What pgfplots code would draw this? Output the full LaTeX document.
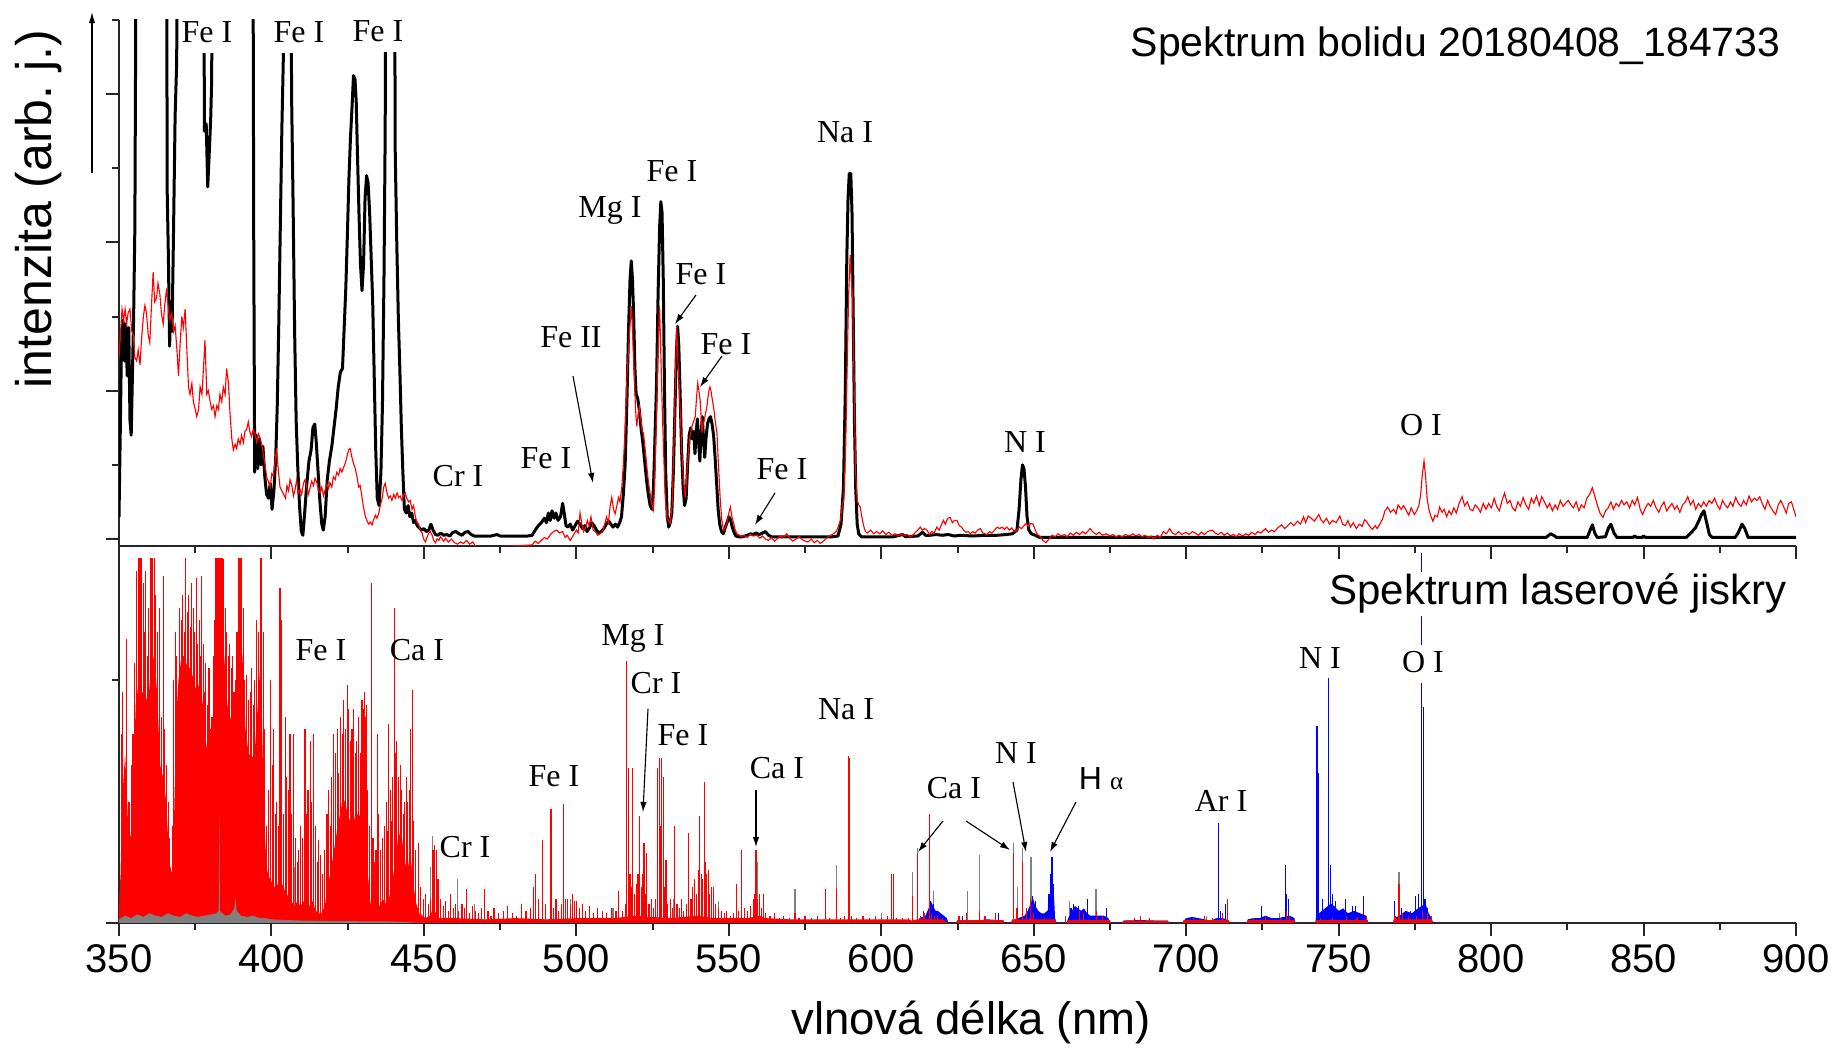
\documentclass[border=0pt]{standalone}
\usepackage{fontspec}
\setmainfont{Liberation Sans}
\newfontfamily\tms{Liberation Serif}
\usepackage{pgfplots}
\pgfplotsset{compat=1.18}
\usetikzlibrary{arrows.meta}
\pgfplotsset{
  spec/.style={scale only axis, width=670.8pt, xmin=350, xmax=900,
    axis x line*=bottom, axis y line*=left,
    axis line style={-, line width=0.8pt, black!85},
    tick align=outside, major tick length=5.2pt, minor tick length=2.8pt,
    tick style={line width=0.8pt, black!85},
    xtick={350,400,...,900}, minor xtick={375,425,...,875},
    /pgf/number format/assume math mode=true,
    ticklabel style={font=\fontsize{16}{16}\selectfont},
    anchor=south west},
}
\tikzset{lab/.style={font=\tms\fontsize{12.8}{12.8}\selectfont, anchor=base, inner sep=0pt},
  wlab/.style={lab, fill=white, inner xsep=1pt, inner ysep=4pt, text depth=0pt},
  ar/.style={-{Latex[length=4pt,width=2.6pt]}, line width=0.45pt}}
\begin{document}
\begin{tikzpicture}
\useasboundingbox (0,0) rectangle (733.2pt,419.2pt);
% ---------------- top panel: meteor spectrum ----------------
\begin{axis}[spec, at={(47.6pt,200.8pt)}, height=210.4pt, ymin=-0.0945, ymax=7.0,
  ytick={0,2,4,6}, minor ytick={1,3,5,7}, yticklabels={}, xticklabels={}]
\addplot[black, line width=1.2pt, line join=round, mark=none] coordinates {
(350.0,0.30)(350.4,1.40)(350.8,2.60)(351.3,2.95)(351.8,2.40)(352.2,2.90)(352.7,2.20)(353.2,2.85)
(353.6,1.60)(354.0,1.40)(354.4,2.20)(354.8,3.00)(355.2,4.20)(355.7,9)(365.6,9)(365.8,4.70)
(366.2,3.80)(366.6,2.60)(367.0,3.20)(367.4,2.80)(367.9,4.20)(368.4,5.70)(368.9,6.40)(369.4,9)
(377.8,9)(378.0,5.50)(378.6,5.60)(379.1,4.75)(379.7,5.30)(380.1,5.70)(380.4,6.20)(380.6,9)
(393.9,9)(394.2,3.90)(394.5,0.90)(395.0,1.40)(395.5,0.95)(396.0,1.35)(396.6,1.00)(397.2,1.25)
(397.8,0.85)(398.4,0.60)(399.0,0.55)(399.6,0.75)(400.2,0.40)(400.8,0.65)(401.4,1.10)(401.9,1.80)
(402.4,2.90)(402.9,4.20)(403.4,5.50)(403.9,6.50)(404.3,9)(406.3,9)(406.6,6.00)(407.1,4.50)
(407.6,2.80)(408.1,1.60)(408.6,1.00)(409.2,0.45)(409.8,0.10)(410.3,0.05)(410.8,0.30)(411.5,0.70)
(412.3,1.05)(413.0,1.20)(413.6,1.50)(414.2,1.55)(414.7,1.30)(415.3,0.90)(415.9,0.50)(416.5,0.20)
(417.0,0.12)(417.6,0.30)(418.3,0.80)(419.0,1.05)(419.8,1.25)(420.5,1.50)(421.2,1.75)(421.9,2.05)
(422.6,2.25)(423.3,2.30)(423.9,2.90)(424.4,3.40)(424.9,4.10)(425.4,4.85)(425.9,5.40)(426.4,5.80)
(426.9,6.25)(427.4,6.20)(427.8,5.90)(428.2,5.20)(428.7,4.40)(429.2,3.70)(429.7,3.35)(430.2,3.70)
(430.7,4.60)(431.2,4.90)(431.7,4.80)(432.2,4.40)(432.7,3.80)(433.2,3.20)(433.7,2.20)(434.2,1.20)
(434.7,0.55)(435.3,0.45)(435.9,0.90)(436.4,1.80)(436.9,3.50)(437.3,5.50)(437.6,9)(440.3,9)
(440.6,5.20)(441.1,4.00)(441.6,3.00)(442.1,2.30)(442.6,1.50)(443.1,0.90)(443.6,0.40)(444.2,0.35)
(444.8,0.45)(445.4,0.30)(446.0,0.35)(446.6,0.22)(447.2,0.25)(447.8,0.18)(448.5,0.15)(449.2,0.12)
(450.0,0.14)(450.8,0.10)(451.6,0.12)(452.3,0.20)(453.0,0.12)(453.8,0.06)(454.6,0.05)(455.5,0.08)
(456.5,0.05)(457.5,0.06)(458.5,0.04)(459.5,0.09)(460.5,0.10)(461.5,0.07)(462.5,0.05)(463.5,0.09)
(464.5,0.10)(465.5,0.06)(466.5,0.04)(468,0.04)(470,0.04)(472,0.04)(474,0.06)(475,0.04)
(478,0.04)(481,0.04)(484,0.04)(485.5,0.05)(486.5,0.12)(487.5,0.18)(488.5,0.22)(489.5,0.28)
(490.2,0.22)(490.8,0.35)(491.4,0.25)(492.0,0.38)(492.7,0.28)(493.3,0.35)(494.0,0.25)(494.8,0.30)
(495.5,0.48)(496.0,0.35)(496.6,0.18)(497.2,0.16)(498.0,0.20)(498.8,0.12)(499.6,0.18)(500.4,0.24)
(501.2,0.20)(502.0,0.14)(502.8,0.18)(503.5,0.10)(504.3,0.15)(505.0,0.22)(505.8,0.18)(506.6,0.12)
(507.4,0.08)(508.2,0.10)(509.0,0.14)(509.8,0.20)(510.6,0.24)(511.3,0.20)(512.0,0.16)(512.8,0.20)
(513.5,0.16)(514.2,0.22)(514.8,0.30)(515.4,0.60)(516.0,1.00)(516.6,1.90)(517.1,2.80)(517.6,3.50)
(518.0,3.75)(518.4,3.50)(518.8,3.00)(519.2,2.30)(519.6,1.95)(520.1,1.90)(520.6,1.75)(521.2,1.50)
(521.8,1.30)(522.4,1.05)(523.0,0.80)(523.6,0.60)(524.2,0.45)(524.8,0.40)(525.3,0.70)(525.8,1.40)
(526.3,2.10)(526.8,3.30)(527.3,4.20)(527.7,4.55)(528.1,4.40)(528.5,3.50)(528.9,2.00)(529.3,0.90)
(529.8,0.30)(530.3,0.16)(530.8,0.22)(531.3,0.35)(531.8,0.90)(532.3,1.70)(532.8,2.50)(533.2,2.87)
(533.6,2.60)(534.0,2.00)(534.5,1.20)(535.0,0.70)(535.5,0.45)(536.0,0.55)(536.5,1.00)(537.0,1.40)
(537.5,1.50)(538.0,1.35)(538.5,1.45)(538.9,1.15)(539.3,1.45)(539.7,1.62)(540.1,1.30)(540.5,1.05)
(540.9,1.40)(541.3,1.65)(541.7,1.35)(542.1,1.10)(542.5,1.35)(543.0,1.55)(543.5,1.62)(544.0,1.65)
(544.5,1.55)(545.0,1.40)(545.5,1.10)(546.0,0.75)(546.5,0.40)(547.0,0.20)(547.6,0.10)(548.2,0.07)
(548.8,0.15)(549.4,0.22)(550.0,0.30)(550.5,0.27)(551.0,0.18)(551.6,0.10)(552.3,0.04)(553.2,0.03)
(554.5,0.03)(556.0,0.05)(557.2,0.07)(558.0,0.06)(559.0,0.08)(560.0,0.06)(561.0,0.08)(562.0,0.10)
(563.0,0.05)(564.0,0.03)(566,0.03)(570,0.03)(575,0.03)(580,0.03)(584,0.03)(585.8,0.04)
(586.8,0.20)(587.6,0.70)(588.2,2.00)(588.7,3.80)(589.1,4.60)(589.5,4.93)(590.0,4.93)(590.4,4.40)
(590.8,3.00)(591.2,1.60)(591.6,0.70)(592.1,0.20)(592.6,0.07)(593.5,0.03)(596,0.03)(600,0.03)
(604,0.03)(607,0.06)(608,0.03)(612,0.04)(613.5,0.09)(614.5,0.05)(616,0.05)(618,0.06)
(620,0.05)(622,0.06)(624,0.04)(626,0.05)(630,0.04)(634,0.05)(638,0.05)(641,0.06)
(643,0.07)(644.5,0.12)(645.2,0.40)(645.8,0.80)(646.3,1.00)(646.8,0.95)(647.3,0.70)(647.8,0.30)
(648.4,0.12)(649.2,0.07)(650.5,0.05)(652,0.02)(700,0.02)(800,0.02)(818,0.02)(819.5,0.07)
(820.5,0.05)(821.5,0.02)(831.5,0.02)(832.5,0.12)(833.2,0.19)(834.0,0.08)(834.8,0.02)(837.5,0.03)
(838.5,0.15)(839.3,0.20)(840.3,0.08)(841.3,0.02)(846.5,0.02)(847,0.04)(847.8,0.02)(849.5,0.02)
(850,0.04)(850.6,0.02)(864,0.02)(865.5,0.08)(867,0.15)(868.2,0.25)(869.0,0.33)(869.8,0.38)
(870.7,0.22)(871.6,0.06)(872.5,0.02)(880,0.02)(881,0.08)(882.3,0.20)(883.2,0.14)(884.3,0.02)
(900,0.02)};
\addplot[red, line width=0.45pt, mark=none] coordinates {
(350.0,2.45)(350.6,2.85)(351.0,3.10)(351.5,2.95)(352.0,3.10)(352.5,2.90)(353.0,3.05)(353.6,3.10)
(354.2,2.80)(354.7,2.75)(355.2,2.45)(355.8,2.40)(356.3,2.55)(356.9,2.35)(357.4,2.70)(358.0,3.00)
(358.5,3.15)(359.0,3.05)(359.6,2.75)(360.1,2.65)(360.6,3.10)(361.2,3.60)(361.7,3.20)(362.3,3.25)
(362.8,3.45)(363.4,3.30)(363.9,3.05)(364.5,2.90)(365.0,3.15)(365.6,3.38)(366.2,3.10)(366.7,2.95)
(367.3,3.05)(367.9,2.80)(368.4,2.88)(369.0,2.55)(369.5,2.20)(370.0,2.60)(370.6,3.00)(371.1,2.85)
(371.7,3.10)(372.2,2.60)(372.8,2.05)(373.3,1.95)(373.9,2.10)(374.4,1.85)(375.0,1.75)(375.5,1.65)
(376.1,1.75)(376.6,2.05)(377.2,1.95)(377.7,2.30)(378.2,2.68)(378.8,1.95)(379.3,2.00)(379.9,1.85)
(380.4,1.75)(381.0,1.80)(381.5,1.65)(382.1,1.80)(382.6,1.75)(383.1,1.95)(383.7,1.85)(384.2,2.05)
(384.8,1.95)(385.3,2.30)(385.9,2.10)(386.4,1.70)(387.0,1.35)(387.5,1.20)(388.1,1.28)(388.6,1.22)
(389.1,1.35)(389.7,1.28)(390.2,1.40)(390.8,1.30)(391.3,1.45)(391.9,1.48)(392.4,1.58)(392.9,1.45)
(393.5,1.38)(394.0,1.48)(394.6,1.42)(395.2,1.30)(395.7,1.42)(396.3,1.36)(396.8,1.28)(397.4,1.12)
(397.9,1.00)(398.5,0.82)(399.0,0.78)(399.6,0.70)(400.1,0.88)(400.6,0.85)(401.2,1.05)(401.7,1.22)
(402.2,0.95)(402.8,0.70)(403.3,0.66)(404.0,0.60)(404.6,0.55)(405.1,0.72)(405.6,0.65)(406.1,0.80)
(406.7,0.72)(407.2,0.58)(407.7,0.66)(408.3,0.80)(408.8,0.62)(409.4,0.66)(409.9,0.60)(410.5,0.75)
(411.0,0.80)(411.6,0.70)(412.1,0.60)(412.6,0.68)(413.2,0.78)(413.8,0.72)(414.3,0.82)(414.9,0.76)
(415.4,0.66)(416.0,0.62)(416.5,0.70)(417.1,0.58)(417.6,0.66)(418.2,0.74)(418.7,0.68)(419.2,0.76)
(419.8,0.70)(420.3,0.84)(420.9,0.80)(421.4,0.90)(422.0,0.86)(422.5,0.95)(423.1,0.90)(423.6,0.96)
(424.2,1.02)(424.7,1.10)(425.3,1.20)(425.8,1.22)(426.4,1.10)(426.9,1.02)(427.5,0.95)(428.0,0.85)
(428.6,0.70)(429.1,0.72)(429.7,0.56)(430.2,0.42)(430.8,0.30)(431.3,0.25)(431.9,0.20)(432.4,0.23)
(433.0,0.19)(433.5,0.26)(434.1,0.32)(434.6,0.28)(435.2,0.35)(435.7,0.45)(436.3,0.55)(436.8,0.70)
(437.3,0.75)(437.9,0.62)(438.4,0.55)(439.0,0.58)(439.5,0.52)(440.1,0.60)(440.6,0.55)(441.2,0.62)
(441.7,0.56)(442.2,0.58)(442.8,0.52)(443.3,0.58)(443.9,0.62)(444.4,0.55)(445.0,0.50)(445.5,0.52)
(446.1,0.40)(446.6,0.45)(447.2,0.30)(447.7,0.22)(448.3,0.20)(448.8,0.12)(449.4,0.08)(449.9,0.00)
(450.5,-0.04)(451.0,0.02)(451.6,0.08)(452.1,0.10)(452.7,0.05)(453.2,-0.02)(453.8,-0.05)(454.3,0.00)
(454.9,-0.02)(455.4,0.03)(456.0,0.00)(456.5,-0.03)(457.1,0.01)(458,-0.04)(459,0.00)(460,-0.05)
(461,-0.07)(462,-0.04)(463,-0.06)(464,-0.02)(465,-0.07)(466,-0.04)(467,-0.10)(468,-0.12)
(485.5,-0.08)(486.5,-0.03)(487.5,-0.06)(488.5,-0.02)(489.5,0.02)(490.5,0.00)(491.5,0.06)(492.5,0.10)
(493.5,0.12)(494.5,0.08)(495.5,0.10)(496.3,0.02)(497.0,0.05)(498.0,-0.02)(499.0,0.05)(500.0,0.12)
(500.6,0.08)(501.2,0.35)(501.8,0.20)(502.4,0.10)(503.0,0.15)(503.6,0.25)(504.2,0.18)(504.8,0.30)
(505.5,0.12)(506.2,0.10)(507.0,0.05)(507.8,0.07)(508.5,0.10)(509.2,0.18)(509.9,0.30)(510.5,0.22)
(511.1,0.45)(511.6,0.56)(512.2,0.40)(512.7,0.34)(513.3,0.45)(513.8,0.56)(514.3,0.50)(514.9,0.70)
(515.4,1.00)(516.0,1.50)(516.6,2.20)(517.1,2.55)(517.6,2.90)(518.1,3.14)(518.5,2.70)(519.0,2.20)
(519.4,1.75)(519.8,1.52)(520.3,1.70)(520.7,1.78)(521.2,1.60)(521.6,1.45)(522.0,1.43)(522.6,1.20)
(523.1,0.98)(523.6,0.78)(524.2,0.61)(524.7,0.48)(525.3,0.39)(525.8,0.95)(526.4,1.87)(526.8,2.60)
(527.3,3.14)(527.8,2.33)(528.2,1.70)(528.6,1.20)(529.1,0.60)(529.7,0.29)(530.2,0.25)(530.8,0.21)
(531.4,0.45)(532.1,1.43)(532.5,2.20)(532.9,2.87)(533.3,2.40)(533.7,2.10)(534.2,1.60)(534.6,1.15)
(535.1,0.80)(535.7,0.56)(536.2,0.85)(536.8,1.20)(537.3,1.40)(537.9,1.52)(538.4,1.58)(539.0,1.65)
(539.4,1.90)(539.8,2.10)(540.2,2.00)(540.6,1.87)(541.0,1.60)(541.2,1.43)(541.6,1.55)(542.0,1.61)
(542.4,1.70)(542.8,1.78)(543.2,1.92)(543.5,2.01)(543.8,2.05)(544.1,2.01)(544.5,1.90)(545.0,1.78)
(545.5,1.60)(546.1,1.43)(546.6,1.00)(547.2,0.52)(547.7,0.25)(548.3,0.12)(548.8,0.15)(549.4,0.21)
(550.0,0.35)(550.5,0.43)(551.0,0.30)(551.6,0.21)(552.1,0.12)(552.7,0.07)(553.5,0.05)(554.2,0.03)
(555.0,0.05)(556.0,0.02)(557.0,0.06)(558.0,0.04)(559.2,0.05)(560.2,0.01)(561.0,0.04)(562.0,0.00)
(563.0,-0.02)(564.0,0.02)(565.0,-0.03)(566.0,0.01)(567.0,0.04)(568.0,0.02)(569.0,0.07)(570.0,0.01)
(571.0,-0.03)(572.0,0.00)(573.0,0.03)(574.5,-0.02)(576.0,-0.04)(577.0,0.00)(578.0,-0.05)(579.0,-0.02)
(580.0,-0.06)(581.0,-0.03)(582.0,0.01)(583.0,0.04)(584.3,0.07)(585.3,0.10)(586.0,0.18)(586.6,0.25)
(587.2,0.45)(587.7,0.52)(588.3,1.20)(588.8,2.30)(589.3,3.30)(589.8,3.83)(590.2,3.50)(590.5,3.30)
(590.8,2.80)(591.2,1.80)(591.6,0.90)(592.1,0.52)(592.6,0.46)(593.1,0.43)(593.6,0.30)(594.2,0.18)
(594.8,0.10)(595.5,0.08)(596.5,0.12)(597.5,0.07)(598.5,0.10)(599.5,0.07)(600.5,0.11)(601.5,0.06)
(602.5,0.09)(603.5,0.05)(604.5,0.07)(605.5,0.04)(606.5,0.07)(607.5,0.05)(608.5,0.06)(609.5,0.03)
(610.5,0.06)(611.5,0.10)(612.8,0.16)(613.5,0.12)(614.2,0.14)(615.0,0.12)(615.8,0.06)(616.6,0.10)
(617.4,0.08)(618.2,0.16)(619.0,0.12)(619.8,0.20)(620.4,0.25)(621.0,0.20)(621.8,0.28)(622.6,0.29)
(623.3,0.22)(624.0,0.25)(624.8,0.25)(625.6,0.18)(626.3,0.16)(627.0,0.12)(627.8,0.09)(628.5,0.10)
(629.2,0.07)(630.0,0.10)(630.8,0.08)(631.6,0.12)(632.5,0.14)(633.3,0.08)(634.0,0.07)(634.7,0.06)
(635.5,0.10)(636.3,0.08)(637.2,0.12)(638.0,0.16)(638.8,0.14)(639.6,0.16)(640.4,0.13)(641.2,0.16)
(642.0,0.12)(642.8,0.15)(643.6,0.10)(644.5,0.12)(645.3,0.16)(646.0,0.14)(646.8,0.18)(647.5,0.21)
(648.3,0.17)(649.0,0.21)(649.8,0.20)(650.5,0.12)(651.2,0.06)(652.0,0.04)(653.0,-0.02)(654.0,-0.05)
(655.0,0.00)(656.0,0.05)(657.0,0.03)(658.0,0.07)(659.0,0.04)(660.0,0.06)(661.0,0.03)(662.0,0.08)
(663.0,0.05)(664.0,0.09)(665.0,0.06)(666.0,0.10)(667.0,0.07)(668.5,0.14)(669.5,0.09)(670.5,0.06)
(671.5,0.09)(672.5,0.05)(673.8,0.07)(675.0,0.04)(676.0,0.06)(677.0,0.03)(678.0,0.05)(679.0,0.03)
(680.0,0.06)(681.5,0.04)(682.5,0.07)(683.5,0.04)(684.5,0.06)(685.5,0.03)(686.5,0.05)(687.5,0.02)
(688.5,0.04)(689.4,0.00)(690.5,0.05)(691.5,0.02)(692.5,0.10)(693.5,0.07)(694.6,0.14)(695.5,0.08)
(696.5,0.06)(697.5,0.10)(698.5,0.06)(699.9,0.09)(701.0,0.06)(702.0,0.10)(703.0,0.08)(704.0,0.05)
(705.0,0.09)(706.0,0.06)(707.0,0.10)(708.6,0.12)(709.5,0.08)(710.5,0.06)(711.5,0.09)(712.5,0.05)
(713.5,0.08)(714.5,0.04)(715.5,0.06)(716.5,0.03)(717.3,0.07)(718.5,0.04)(719.5,0.07)(720.5,0.05)
(721.5,0.09)(722.6,0.06)(723.5,0.10)(724.5,0.08)(726.0,0.14)(727.0,0.09)(728.0,0.12)(729.0,0.10)
(730.0,0.15)(731.3,0.19)(732.3,0.14)(733.3,0.18)(734.3,0.22)(735.3,0.18)(736.5,0.24)(737.5,0.20)
(738.5,0.30)(739.2,0.22)(740.0,0.31)(741.0,0.28)(742.0,0.24)(743.0,0.30)(743.5,0.33)(744.2,0.26)
(745.0,0.22)(746.0,0.28)(747.0,0.20)(748.0,0.25)(749.2,0.22)(750.4,0.31)(751.3,0.20)(752.2,0.18)
(753.0,0.25)(753.9,0.16)(754.8,0.22)(755.8,0.14)(756.8,0.20)(757.7,0.17)(758.5,0.26)(759.1,0.24)
(760.0,0.18)(761.0,0.13)(762.0,0.18)(762.6,0.14)(763.5,0.20)(764.4,0.27)(765.2,0.38)(766.1,0.43)
(767.0,0.36)(768.0,0.40)(768.8,0.34)(769.5,0.46)(770.5,0.40)(771.3,0.45)(772.2,0.38)(773.0,0.32)
(773.8,0.42)(774.8,0.33)(775.6,0.38)(776.3,0.45)(776.9,0.60)(777.4,0.85)(778.0,1.05)(778.5,0.85)
(779.0,0.55)(779.6,0.40)(780.3,0.30)(780.9,0.24)(781.6,0.32)(782.4,0.30)(783.1,0.43)(783.9,0.36)
(784.6,0.40)(785.4,0.30)(786.2,0.38)(787.0,0.33)(787.8,0.42)(788.6,0.35)(789.5,0.48)(790.5,0.57)
(791.3,0.45)(792.2,0.50)(793.1,0.40)(794.0,0.38)(794.8,0.46)(795.7,0.42)(796.5,0.36)(797.4,0.48)
(798.3,0.40)(799.2,0.48)(800.1,0.42)(801.0,0.55)(801.8,0.44)(802.7,0.38)(803.6,0.52)(804.4,0.62)
(805.3,0.48)(806.2,0.52)(807.0,0.42)(807.9,0.38)(808.8,0.50)(809.6,0.44)(810.5,0.56)(811.4,0.46)
(812.3,0.40)(813.2,0.55)(814.0,0.48)(814.9,0.58)(815.8,0.45)(816.6,0.57)(817.5,0.50)(818.4,0.42)
(819.2,0.48)(820.1,0.38)(821.0,0.46)(821.8,0.40)(822.7,0.52)(823.6,0.44)(824.4,0.48)(825.3,0.52)
(826.2,0.46)(827.0,0.42)(827.9,0.50)(828.8,0.38)(829.6,0.46)(830.5,0.42)(831.4,0.55)(832.3,0.60)
(833.2,0.69)(834.0,0.58)(834.9,0.45)(835.8,0.34)(836.7,0.29)(837.5,0.38)(838.4,0.42)(839.3,0.50)
(840.1,0.40)(841.0,0.48)(841.9,0.44)(842.8,0.52)(843.6,0.46)(844.5,0.50)(845.4,0.42)(846.3,0.52)
(847.1,0.46)(848.0,0.56)(848.9,0.40)(849.7,0.33)(850.6,0.42)(851.5,0.48)(852.3,0.44)(853.2,0.52)
(854.1,0.42)(855.0,0.36)(855.8,0.44)(856.7,0.50)(857.6,0.38)(858.4,0.43)(859.3,0.48)(860.2,0.40)
(861.0,0.45)(861.9,0.36)(862.8,0.46)(863.7,0.50)(864.5,0.57)(865.4,0.46)(866.3,0.52)(867.1,0.40)
(868.0,0.48)(868.9,0.43)(869.7,0.50)(870.6,0.44)(871.5,0.52)(872.4,0.48)(873.3,0.55)(874.1,0.46)
(875.0,0.40)(875.9,0.52)(876.7,0.46)(877.6,0.42)(878.5,0.50)(879.3,0.44)(880.2,0.56)(881.1,0.48)
(882.0,0.44)(882.8,0.52)(883.7,0.46)(884.6,0.58)(885.4,0.50)(886.3,0.55)(887.2,0.52)(888.1,0.57)
(888.9,0.48)(889.8,0.40)(890.7,0.52)(891.5,0.44)(892.4,0.38)(893.3,0.33)(894.2,0.46)(895.0,0.52)
(895.9,0.44)(896.8,0.35)(897.6,0.48)(898.5,0.50)(899.4,0.38)(900.0,0.30)};
\end{axis}
% ---------------- bottom panel: laser spark spectrum ----------------
\begin{axis}[spec, at={(47.6pt,50pt)}, height=145.6pt, ymin=0, ymax=1.5,
  ytick={0}, minor ytick={1}, yticklabels={}]
% grey lines (behind)
\addplot[ycomb, draw=gray, line width=0.45pt, mark=none] coordinates {
(407.7,0.23)(437.1,0.26)(452.2,0.23)(452.8,0.36)(461.1,0.18)(466.5,0.08)(476,0.05)(498.0,0.10)
(512,0.06)(526.0,0.10)(531.8,0.10)(534.5,0.08)(546.5,0.09)(559.4,0.25)(571.7,0.14)(585.3,0.24)
(600.1,0.04)(610.2,0.21)(611.9,0.31)(617.1,0.13)(628.4,0.13)(632.2,0.28)(643.5,0.33)(644.7,0.15)
(646.2,0.31)(649.1,0.27)(661.7,0.09)(670.4,0.14)(688,0.02)(706.8,0.03)(723.5,0.02)(730.5,0.04)
(744.0,0.02)(769.8,0.21)};
% blue spectrum
\addplot[fill=blue, draw=none] coordinates {
(612.0,0)(612.5,0.02)(614.5,0.03)(615.5,0.06)(616.3,0.09)(617.0,0.07)(617.8,0.05)(618.5,0.05)
(619.5,0.04)(620.5,0.03)(621.5,0.02)(622,0)(624.5,0)(625,0.01)(630,0.01)(635,0.015)(640,0.01)(640.5,0)
(642.5,0)(643,0.01)(645,0.02)(647,0.03)(648,0.05)(649,0.08)(649.8,0.10)(650.5,0.07)(651.5,0.05)
(652.5,0.04)(653.5,0.04)(654.5,0.05)(655.2,0.08)(655.6,0.15)(656.5,0.15)(657.0,0.02)(657.5,0)
(660.8,0)(661.3,0.02)(662.5,0.05)(663.5,0.07)(664.5,0.06)(665.5,0.05)(666.5,0.06)(667.5,0.04)
(668.5,0.03)(670,0.03)(671.5,0.03)(673,0.03)(674.5,0.02)(675,0)(679,0)(679.5,0.01)(685,0.012)
(690,0.01)(694,0.01)(694.3,0)(698.8,0)(699.2,0.01)(700,0.02)(702,0.025)(704,0.02)(706,0.015)
(708,0.01)(710,0.02)(712,0.02)(714,0.01)(714.3,0)(719.8,0)(720.2,0.015)(722,0.02)(724,0.02)
(726,0.03)(728,0.02)(730,0.02)(732,0.025)(734,0.03)(735.5,0.02)(735.8,0)(742.3,0)(742.7,0.03)
(744.5,0.05)(745.5,0.06)(747.5,0.08)(748.5,0.07)(750,0.05)(751.5,0.06)(753,0.04)(755,0.05)
(757,0.04)(759,0.03)(759.5,0)(767.8,0)(768.2,0.02)(770,0.03)(772,0.05)(774,0.04)(776,0.06)
(778.5,0.08)(779.5,0.04)(780.5,0.02)(781,0)} \closedcycle;
\addplot[ycomb, draw=blue, line width=0.45pt, mark=none] coordinates {
(613.8,0.05)(616.0,0.09)(617.2,0.08)(626.5,0.03)(634,0.03)(638.5,0.04)(649.5,0.11)(650.5,0.09)
(655.0,0.12)(655.5,0.20)(656.0,0.27)(656.3,0.16)(662.2,0.06)(663.0,0.08)(664.8,0.07)(667.5,0.10)
(674.0,0.06)(706.0,0.03)(710.7,0.41)(711.2,0.05)(712.8,0.08)(724.8,0.07)(732.5,0.24)(733.0,0.12)
(733.6,0.10)(742.9,0.81)(743.3,0.62)(744.6,0.10)(746.8,1.01)(747.3,0.24)(747.9,0.12)(749.0,0.09)
(752.3,0.10)(754.5,0.07)(755.6,0.07)(758.1,0.11)(768.2,0.09)(770.5,0.06)(773.5,0.05)(775.3,0.11)
(776.3,0.12)(777.3,0.99)(777.8,0.89)(778.3,0.10)(779.2,0.06)};
% red spectrum
\addplot[fill=red, draw=none] coordinates {
(350,0)(350.1,0.10)(350.5,0.20)(351.0,0.50)(352.0,0.70)(353.0,0.40)(354.0,0.35)(354.8,0.65)
(355.5,0.90)(356.5,1.00)(357.5,0.95)(358.5,0.95)(359.5,0.90)(360.5,1.05)(361.5,1.10)(362.5,0.95)
(363.5,0.65)(364.5,0.60)(365.5,0.50)(366.5,0.25)(367.5,0.20)(368.0,0.40)(368.8,0.85)(369.5,1.00)
(370.5,1.10)(371.5,1.10)(372.5,1.05)(373.5,1.05)(374.5,1.00)(375.5,0.95)(376.5,1.00)(377.5,0.90)
(378.5,0.75)(379.5,0.65)(380.5,0.55)(381.3,0.90)(382.5,1.20)(383.5,1.25)(384.5,1.10)(385.5,0.90)
(386.5,0.85)(387.5,0.80)(388.5,0.75)(389.5,1.20)(390.5,1.10)(391.5,0.80)(392.5,0.70)(393.5,0.68)
(394.5,0.70)(395.5,0.90)(396.5,1.10)(397.5,0.45)(398.5,0.22)(399.5,0.18)(400.5,0.16)(401.5,0.14)
(402.5,0.18)(403.5,0.16)(404.5,0.13)(405.5,0.11)(406.5,0.09)(407.5,0.07)(408.5,0.09)(409.5,0.07)
(410.5,0.09)(411.5,0.08)(412.5,0.07)(413.5,0.09)(414.5,0.05)(415.5,0.04)(416.5,0.04)(417.5,0.07)
(418.5,0.15)(419.5,0.22)(420.5,0.30)(421.5,0.38)(422.5,0.45)(423.5,0.52)(424.5,0.48)(425.5,0.42)
(426.5,0.46)(427.5,0.42)(428.5,0.46)(429.5,0.42)(430.5,0.38)(431.5,0.22)(432.5,0.08)(433.5,0.07)
(434.5,0.08)(435.5,0.07)(436.5,0.10)(437.5,0.08)(438.5,0.10)(439.5,0.16)(440.5,0.24)(441.5,0.35)
(442.5,0.38)(443.5,0.28)(444.5,0.20)(445.5,0.30)(446.5,0.16)(447.5,0.08)(448.5,0.04)(449.5,0.03)
(450.5,0.02)(452.0,0.03)(453.0,0.06)(454.0,0.04)(455.0,0.02)(460,0.02)(470,0.015)(480,0.02)
(490,0.015)(500,0.02)(512,0.02)(520,0.03)(530,0.02)(540,0.03)(545,0.02)(556,0.02)(560,0.03)
(562,0.02)(570,0.015)(590,0.015)(609,0.015)(610,0.01)(612,0.015)(620,0.015)(622,0.0)(624.5,0)
(625,0.012)(640,0.012)(640.3,0)(642.5,0)(643,0.015)(657,0.015)(657.5,0)(660.8,0)(661.2,0.012)
(675,0.012)(675.3,0)(679,0)(679.4,0.01)(694,0.01)(694.3,0)(698.8,0)(699.2,0.012)(714,0.012)
(714.3,0)(719.8,0)(720.2,0.012)(735.5,0.012)(735.8,0)(742.3,0)(742.7,0.012)(759.5,0.012)(759.8,0)
(767.8,0)(768.2,0.015)(780.5,0.015)(780.8,0)} \closedcycle;
\addplot[ycomb, draw=red, line width=0.45pt, mark=none] coordinates {
(350.7,0.78)(351.2,0.95)(352.5,1.17)(353.3,0.50)(354.0,0.65)(354.6,0.78)(355.2,1.07)(355.8,1.45)
(356.4,1.55)(356.9,1.55)(357.4,1.55)(357.9,1.40)(358.3,1.20)(358.8,1.45)(359.3,1.10)(359.8,1.30)
(360.5,1.55)(361.0,1.55)(361.5,1.55)(362.0,1.35)(362.6,1.20)(363.2,1.30)(363.8,0.85)(364.5,1.43)
(365.0,0.80)(365.6,0.65)(366.2,0.50)(366.7,0.35)(367.5,0.40)(368.0,1.00)(368.4,1.20)(368.9,1.10)
(369.4,0.90)(369.9,1.30)(370.4,1.25)(370.9,1.35)(371.4,1.20)(371.9,1.55)(372.4,1.28)(372.9,1.35)
(373.4,1.22)(373.8,1.40)(374.3,1.30)(374.8,1.20)(375.3,1.42)(375.8,1.15)(376.3,1.25)(376.8,1.10)
(377.1,1.43)(377.6,1.15)(378.1,0.95)(378.5,1.07)(379.0,0.90)(379.5,1.05)(380.0,0.80)(380.5,0.85)
(381.0,1.10)(381.5,1.25)(381.8,1.55)(382.3,1.55)(382.8,1.55)(383.3,1.55)(383.8,1.55)(384.3,1.50)
(384.8,1.30)(385.3,1.20)(385.8,1.10)(386.3,1.15)(386.8,1.05)(387.2,1.10)(387.7,0.95)(388.2,1.00)
(388.7,1.20)(389.2,1.55)(389.7,1.55)(390.2,1.55)(390.7,1.30)(391.2,1.00)(391.9,1.02)(392.5,0.92)
(393.0,0.95)(393.5,1.05)(394.0,0.90)(394.5,1.00)(395.2,1.25)(395.8,1.20)(396.3,1.55)(396.8,1.55)
(397.3,1.20)(397.8,0.80)(398.5,0.40)(399.0,0.55)(399.8,1.00)(400.2,0.65)(400.6,0.80)(401.2,0.45)
(401.7,0.50)(402.2,0.40)(402.8,1.38)(403.4,1.25)(404.0,0.45)(404.5,0.85)(405.0,0.60)(405.6,0.55)
(406.1,0.78)(406.6,0.45)(407.2,0.78)(407.8,0.35)(408.4,0.25)(409.0,0.30)(409.6,0.40)(410.2,0.35)
(411.0,0.80)(411.5,0.45)(412.0,0.55)(412.7,0.75)(413.2,0.50)(413.8,0.78)(414.4,0.40)(415.0,0.25)
(415.4,0.34)(416.0,0.28)(416.6,0.20)(417.3,0.30)(418.2,0.45)(418.8,0.55)(419.4,0.40)(419.8,0.60)
(420.4,0.78)(421.0,0.70)(421.6,0.80)(422.1,0.62)(422.6,0.85)(423.2,0.78)(423.7,0.92)(424.3,0.80)
(424.8,0.98)(425.3,0.88)(425.9,0.75)(426.4,0.80)(426.9,0.88)(427.5,0.70)(428.0,0.75)(428.6,0.85)
(429.1,0.70)(429.7,0.92)(430.1,0.88)(430.4,0.95)(430.8,0.85)(431.1,0.90)(431.6,0.55)(432.1,0.40)
(432.7,1.40)(433.3,0.35)(433.8,0.25)(434.3,0.30)(434.8,0.78)(435.2,0.45)(435.8,0.30)(436.3,0.35)
(437.0,0.40)(437.6,0.50)(438.0,0.38)(438.4,0.82)(438.9,0.55)(439.4,0.42)(439.8,0.60)(440.3,1.30)
(440.8,0.70)(441.1,0.75)(441.6,0.60)(442.2,0.65)(442.7,0.55)(443.2,0.45)(443.7,0.50)(444.2,0.60)
(444.7,0.50)(445.2,0.55)(445.7,0.80)(446.2,0.96)(446.7,0.42)(447.3,0.30)(448.2,0.33)(449.0,0.15)
(449.8,0.10)(450.6,0.12)(451.4,0.08)(452.2,0.10)(453.0,0.30)(453.4,0.32)(454.0,0.30)(454.6,0.18)
(455.5,0.10)(456.3,0.07)(457.0,0.09)(458.0,0.05)(458.8,0.12)(459.6,0.06)(460.4,0.08)(461.2,0.05)
(462.5,0.08)(463.2,0.06)(464.0,0.14)(465.0,0.04)(466.0,0.07)(467.0,0.05)(468.0,0.04)(469.0,0.06)
(470.0,0.14)(471.0,0.05)(472.0,0.03)(473.0,0.06)(474.5,0.04)(476.0,0.05)(477.5,0.07)(479.0,0.04)
(480.5,0.03)(482.0,0.08)(483.5,0.05)(485.0,0.06)(486.0,0.15)(486.7,0.20)(487.5,0.10)(489.0,0.34)
(490.0,0.08)(491.7,0.47)(492.5,0.06)(493.3,0.10)(494.0,0.05)(495.0,0.08)(495.8,0.49)(496.5,0.10)
(497.2,0.10)(498.0,0.08)(498.8,0.12)(499.5,0.09)(500.1,0.09)(501.0,0.06)(502.0,0.08)(503.0,0.05)
(504.2,0.07)(505.5,0.04)(507.0,0.06)(508.5,0.05)(510.0,0.04)(511.5,0.06)(513.0,0.05)(513.8,0.13)
(515.0,0.05)(516.0,0.08)(516.5,1.08)(517.1,0.64)(517.6,0.20)(518.0,0.15)(518.5,0.64)(519.0,0.12)
(519.6,0.16)(520.2,0.20)(520.7,0.44)(521.3,0.15)(521.8,0.20)(522.2,0.33)(522.7,0.12)(523.1,0.29)
(523.8,0.08)(524.5,0.10)(525.2,0.06)(526.0,0.10)(526.6,0.64)(527.2,0.68)(527.7,0.40)(528.0,0.68)
(528.5,0.60)(529.0,0.15)(529.4,0.26)(530.0,0.08)(530.8,0.10)(531.5,0.06)(532.3,0.40)(533.0,0.08)
(533.8,0.06)(534.5,0.10)(535.2,0.05)(536.0,0.08)(536.9,0.37)(537.6,0.10)(538.2,0.15)(538.8,0.18)
(539.4,0.12)(540.0,0.22)(540.5,0.44)(541.0,0.20)(541.4,0.18)(541.9,0.58)(542.3,0.25)(542.7,0.20)
(543.2,0.22)(543.6,0.12)(544.2,0.15)(544.9,0.15)(545.6,0.08)(546.5,0.06)(547.5,0.05)(548.5,0.04)
(549.3,0.05)(550.5,0.03)(551.5,0.04)(552.5,0.16)(553.3,0.05)(554.2,0.30)(555.0,0.06)(556.0,0.05)
(557.2,0.07)(558.0,0.10)(558.5,0.12)(558.9,0.30)(559.5,0.10)(560.0,0.12)(560.6,0.06)(561.3,0.12)
(562.0,0.04)(563.5,0.03)(565.0,0.04)(566.5,0.02)(568.0,0.03)(570.0,0.02)(571.7,0.04)(573.0,0.02)
(575.0,0.03)(577.0,0.02)(579.0,0.03)(581.8,0.14)(583.0,0.02)(585.3,0.14)(586.5,0.02)(588.0,0.03)
(589.2,0.69)(589.6,0.68)(590.3,0.03)(592.0,0.02)(594.0,0.03)(596.0,0.02)(598.0,0.03)(600.0,0.02)
(602.0,0.03)(603.4,0.20)(603.9,0.20)(605.0,0.02)(607.0,0.02)(609.0,0.02)(610.3,0.11)(611.8,0.29)
(613.0,0.03)(614.0,0.04)(615.7,0.45)(616.5,0.04)(617.5,0.03)(618.5,0.03)(620.0,0.02)(625.5,0.03)
(628.0,0.04)(632.2,0.05)(634,0.03)(637.5,0.04)(643.5,0.29)(644.5,0.06)(646.2,0.25)(647.5,0.06)
(648.9,0.10)(650.0,0.04)(653.5,0.02)(660.5,0.03)(665.0,0.05)(666.3,0.04)(670.5,0.05)(672.5,0.03)
(683.0,0.02)(685.0,0.03)(688.0,0.02)(702.5,0.02)(706.0,0.03)(708.5,0.02)(712.0,0.04)(713.5,0.10)
(722.0,0.02)(726.0,0.03)(731.0,0.02)(733.0,0.05)(734.0,0.03)(744.0,0.02)(748.0,0.02)(752.5,0.03)
(756.0,0.02)(759.0,0.03)(768.5,0.03)(769.8,0.16)(771.0,0.04)(773.0,0.03)(775.5,0.03)(777.5,0.05)
(779.0,0.04)(780.5,0.03)};
% grey continuum (front)
\addplot[fill=gray, draw=none] coordinates {
(350,0)(350,0.015)(352,0.03)(354,0.02)(356,0.035)(358,0.025)(360,0.04)(362,0.03)(364,0.025)
(366,0.04)(368,0.03)(370,0.025)(372,0.04)(374,0.03)(376,0.025)(378,0.03)(380,0.035)(382,0.04)
(382.7,0.05)(382.9,0.44)(383.1,0.05)(383.8,0.04)(385,0.03)(386.5,0.035)(387.8,0.06)(388.2,0.10)
(388.6,0.05)(390,0.03)(392,0.025)(394,0.03)(396,0.02)(398,0.02)(400,0.015)(405,0.012)(410,0.01)
(420,0.008)(440,0.006)(450,0)} \closedcycle;
\end{axis}
% ---------------- texts and arrows (coordinates in pixels of the reference) ----------------
\begin{scope}[x=0.4pt, y=-0.4pt, yshift=419.2pt]
\draw[blue, line width=0.4pt] (1421.8,553) -- (1421.8,645);
\draw[-{Latex[length=4.5pt,width=2.6pt]}, line width=0.5pt] (92,173) -- (92,12);
\node[rotate=90, font=\fontsize{20}{20}\selectfont] at (39,209) {intenzita (arb.\ j.)};
\node[anchor=base, font=\fontsize{18.2}{18.2}\selectfont] at (971,1035) {vlnová délka (nm)};
\node[anchor=base east, inner sep=0pt, font=\fontsize{16.4}{16.4}\selectfont] at (1781,57) {Spektrum bolidu 20180408\_184733};
\node[anchor=base east, inner sep=1pt, fill=white, font=\fontsize{16.8}{16.8}\selectfont] at (1790,605) {Spektrum laserové jiskry};
% top panel labels
\node[wlab] at (207,43) {Fe I};
\node[wlab] at (299,43) {Fe I};
\node[wlab] at (378,42) {Fe I};
\node[lab] at (458,487) {Cr I};
\node[lab] at (546,469) {Fe I};
\node[lab] at (571,348) {Fe II};
\node[lab] at (610,218) {Mg I};
\node[lab] at (672,182) {Fe I};
\node[lab] at (701,285) {Fe I};
\node[lab] at (726,355) {Fe I};
\node[lab] at (782,480) {Fe I};
\node[lab] at (845,143) {Na I};
\node[lab] at (1025,453) {N I};
\node[lab] at (1421,436) {O I};
\draw[ar] (573,376) -- (593,483);
\draw[ar] (696,295) -- (675,324);
\draw[ar] (722,356) -- (700,387);
\draw[ar] (775,493) -- (755,525);
% bottom panel labels
\node[lab] at (321,661) {Fe I};
\node[lab] at (417,661) {Ca I};
\node[lab] at (465,858) {Cr I};
\node[lab] at (554,787) {Fe I};
\node[lab] at (633,646) {Mg I};
\node[lab] at (656,694) {Cr I};
\node[lab] at (683,746) {Fe I};
\node[lab] at (777,779) {Ca I};
\node[lab] at (846,720) {Na I};
\node[lab] at (954,799) {Ca I};
\node[lab] at (1016,764) {N I};
\node[lab] at (1101,790) {{\fontsize{12.8}{12.8}\selectfont\rmfamily H} {\fontsize{10}{10}\selectfont α}};
\node[lab] at (1221,812) {Ar I};
\node[lab] at (1320,669) {N I};
\node[lab] at (1423,673) {O I};
\draw[ar] (648,709) -- (643,812);
\draw[ar] (756,790) -- (756,847);
\draw[ar] (943,821) -- (918,852);
\draw[ar] (966,821) -- (1010,850);
\draw[ar] (1013,782) -- (1026,852);
\draw[ar] (1076,802) -- (1050,852);
\end{scope}
\end{tikzpicture}
\end{document}
